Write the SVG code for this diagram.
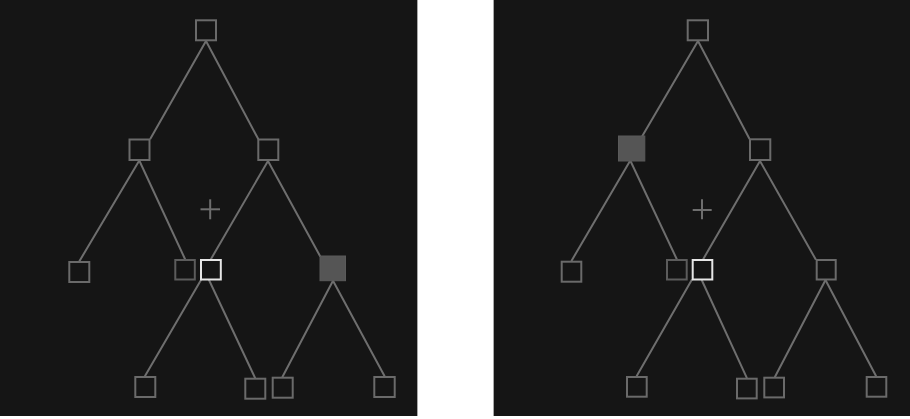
<svg xmlns="http://www.w3.org/2000/svg" width="910" height="419" viewBox="0 0 910 419">
<style>
.bg{fill:#151515}
.edge{stroke:#6e6e6e;stroke-width:2;fill:none;stroke-linecap:round}
.n{fill:#151515;stroke:#6a6a6a;stroke-width:2}
.dim{fill:#151515;stroke:#5c5c5c;stroke-width:2}
.sel{fill:#151515;stroke:#e6e6e6;stroke-width:2}
.fill{fill:#555555;stroke:#5a5a5a;stroke-width:1}
.cross{stroke:#6e6e6e;stroke-width:2}
.border{stroke:#a8a8a8;stroke-width:1}
</style>
<rect x="0" y="0" width="910" height="419" fill="#ffffff"/>
<rect class="bg" x="0" y="0" width="418" height="416"/>
<rect class="bg" x="493" y="0" width="417" height="416"/>
<line class="border" x1="417.5" y1="0" x2="417.5" y2="416"/>
<line class="border" x1="493.5" y1="0" x2="493.5" y2="416"/>

<g id="left-panel">
  <g id="left-connectors">
    <line class="edge" x1="206" y1="41" x2="150.5" y2="138.5"/>
    <line class="edge" x1="206" y1="41" x2="258" y2="138.5"/>
    <line class="edge" x1="139" y1="161" x2="79.5" y2="261"/>
    <line class="edge" x1="139.5" y1="161" x2="185" y2="259"/>
    <line class="edge" x1="268" y1="161" x2="211" y2="259"/>
    <line class="edge" x1="268" y1="161" x2="320" y2="256"/>
    <line class="edge" x1="201" y1="280" x2="145" y2="376"/>
    <line class="edge" x1="209" y1="280" x2="255" y2="377.7"/>
    <line class="edge" x1="333" y1="280.7" x2="282.5" y2="376.7"/>
    <line class="edge" x1="333" y1="280.7" x2="384.5" y2="376"/>
  </g>
  <g id="l-root"><rect class="n" x="196" y="20.3" width="20" height="20"/></g>
  <g id="l-a"><rect class="n" x="129.5" y="139.5" width="20" height="20.5"/></g>
  <g id="l-b"><rect class="n" x="258.3" y="139.5" width="20" height="20.5"/></g>
  <g id="l-c"><rect class="n" x="69.3" y="262" width="20" height="20"/></g>
  <g id="l-d"><rect class="dim" x="175.3" y="260" width="19.5" height="19.5"/></g>
  <g id="l-w"><rect class="sel" x="201" y="260" width="19.8" height="19.5"/></g>
  <g id="l-f"><rect class="fill" x="320" y="256" width="25.5" height="24.7"/></g>
  <g id="l-g1"><rect class="n" x="135.3" y="377" width="20" height="20"/></g>
  <g id="l-g2"><rect class="n" x="245.3" y="378.7" width="20" height="20"/></g>
  <g id="l-g3"><rect class="n" x="272.7" y="377.7" width="20" height="20"/></g>
  <g id="l-g4"><rect class="n" x="374.3" y="377" width="20.4" height="20"/></g>
  <g id="l-cursor">
    <line class="cross" x1="200.5" y1="209.3" x2="220" y2="209.3"/>
    <line class="cross" x1="210.2" y1="199.3" x2="210.2" y2="219.3"/>
  </g>
</g>

<g id="right-panel" transform="translate(492,0)">
  <g id="right-connectors">
    <line class="edge" x1="206" y1="41" x2="150.3" y2="136"/>
    <line class="edge" x1="206" y1="41" x2="257.3" y2="138.5"/>
    <line class="edge" x1="138" y1="161" x2="79.7" y2="260.5"/>
    <line class="edge" x1="138.5" y1="161" x2="184.7" y2="259"/>
    <line class="edge" x1="268" y1="161" x2="211.3" y2="259"/>
    <line class="edge" x1="268" y1="161" x2="323.5" y2="259"/>
    <line class="edge" x1="199.7" y1="280" x2="144.7" y2="376"/>
    <line class="edge" x1="209.7" y1="280" x2="254.7" y2="377.7"/>
    <line class="edge" x1="333.5" y1="280" x2="283" y2="376.7"/>
    <line class="edge" x1="333.5" y1="280" x2="384" y2="376"/>
  </g>
  <g id="r-root"><rect class="n" x="195.7" y="20.3" width="20.3" height="20"/></g>
  <g id="r-a"><rect class="fill" x="126.5" y="136" width="26.3" height="25"/></g>
  <g id="r-b"><rect class="n" x="258" y="139.3" width="20.3" height="20.7"/></g>
  <g id="r-c"><rect class="n" x="69.7" y="261.7" width="19.6" height="20"/></g>
  <g id="r-d"><rect class="dim" x="175" y="260" width="19.7" height="19.5"/></g>
  <g id="r-w"><rect class="sel" x="200.7" y="260" width="19.6" height="19.5"/></g>
  <g id="r-r"><rect class="n" x="324.7" y="260" width="19" height="19.5"/></g>
  <g id="r-g1"><rect class="n" x="135" y="377" width="19.7" height="19.7"/></g>
  <g id="r-g2"><rect class="n" x="245" y="378.7" width="19.7" height="19.7"/></g>
  <g id="r-g3"><rect class="n" x="272.3" y="377.7" width="19.7" height="19.7"/></g>
  <g id="r-g4"><rect class="n" x="374.7" y="377" width="19.6" height="19.7"/></g>
  <g id="r-cursor">
    <line class="cross" x1="200.7" y1="210" x2="219.7" y2="210"/>
    <line class="cross" x1="210" y1="199.3" x2="210" y2="219.3"/>
  </g>
</g>
</svg>
